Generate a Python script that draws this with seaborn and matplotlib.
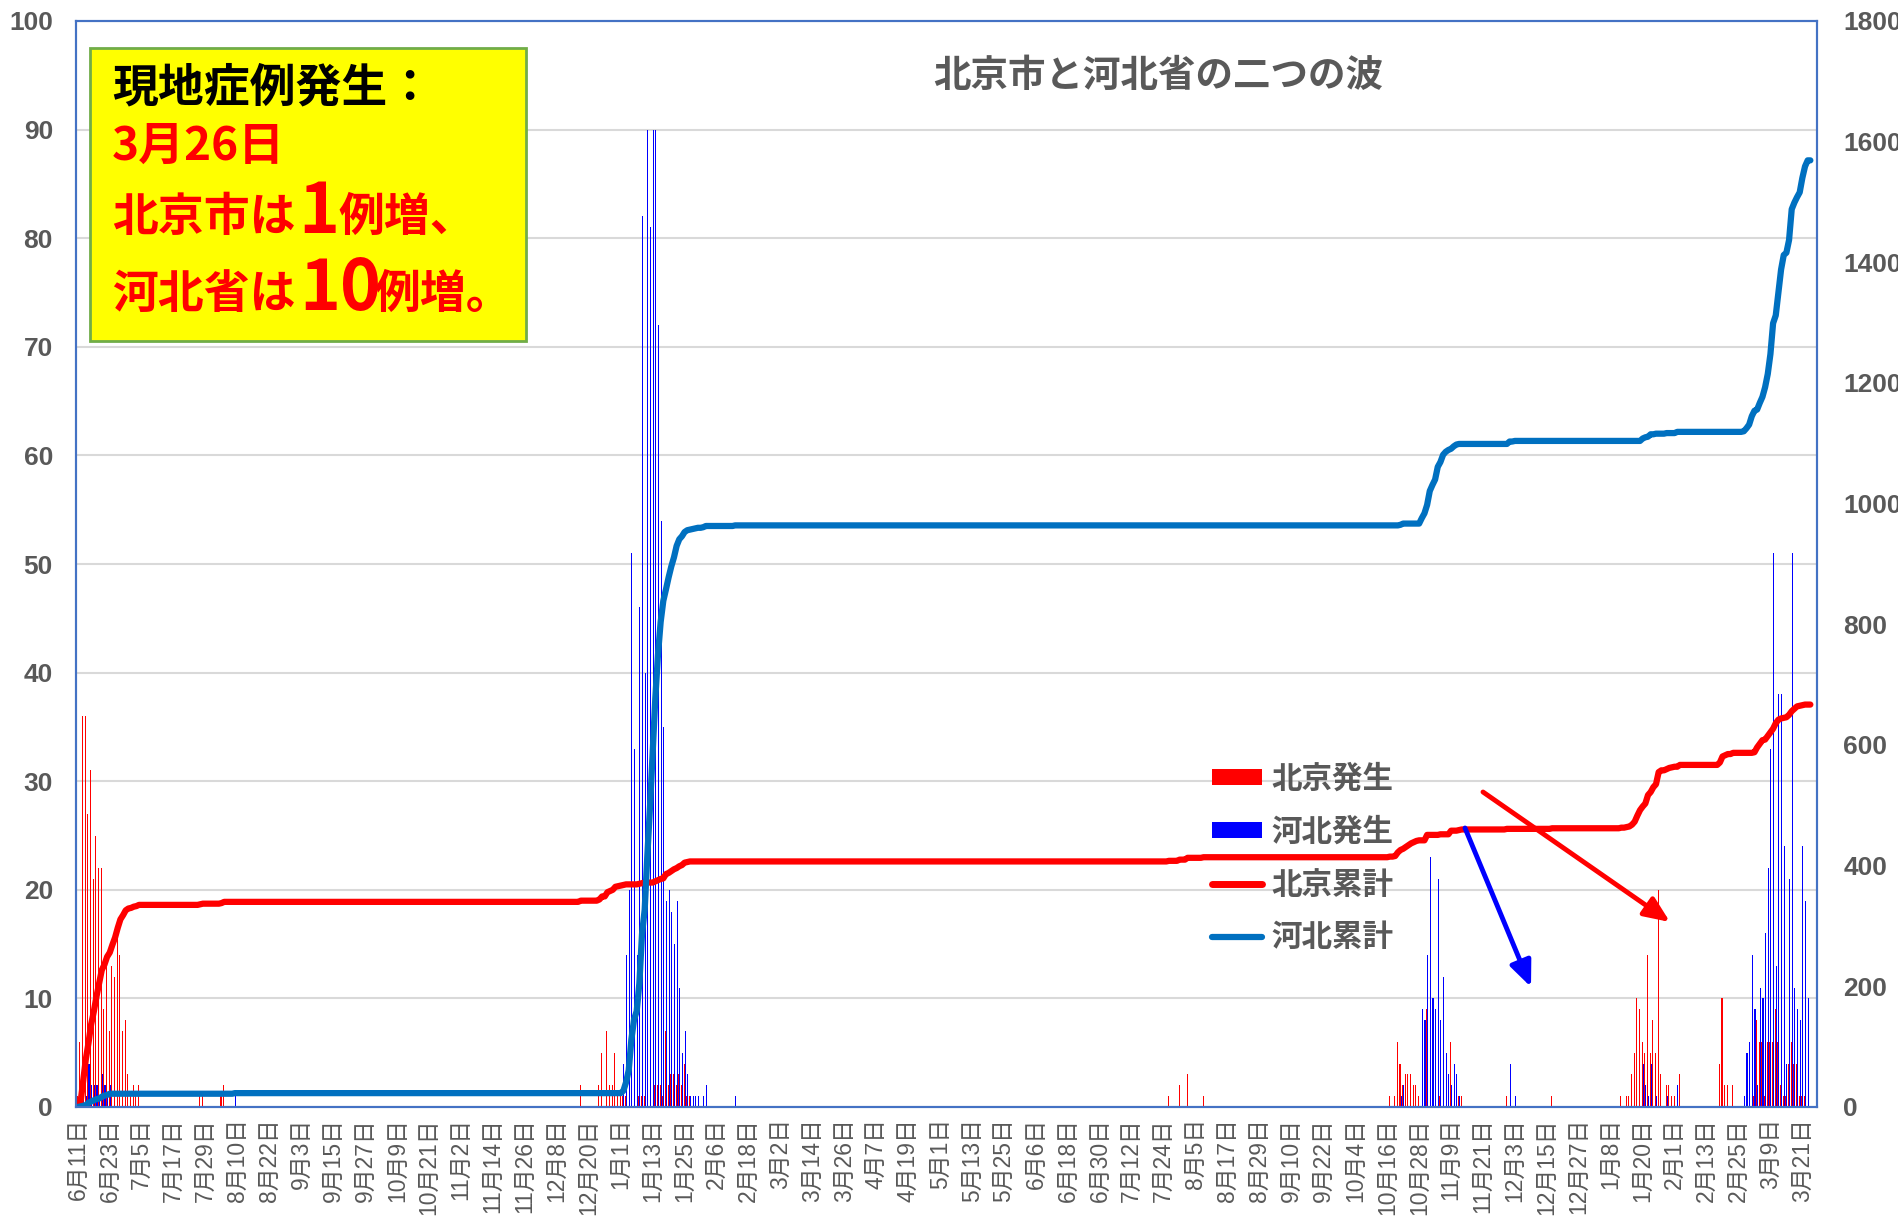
import numpy as np
import pandas as pd
import matplotlib
matplotlib.use("Agg")
import matplotlib.pyplot as plt
import seaborn as sns
from matplotlib.patches import Rectangle, Patch
from matplotlib.lines import Line2D

# 期間（カテゴリ軸は1日ごと）
first_day = "2020-06-11"
last_day = "2022-03-26"
line_last_day = "2022-03-24"

# 北京 現地症例（日別、0の日は省略）
bj_dates = [
    "2020-06-11", "2020-06-12", "2020-06-13", "2020-06-14", "2020-06-15", "2020-06-16",
    "2020-06-17", "2020-06-18", "2020-06-19", "2020-06-20", "2020-06-21", "2020-06-22",
    "2020-06-23", "2020-06-24", "2020-06-25", "2020-06-26", "2020-06-27", "2020-06-28",
    "2020-06-29", "2020-06-30", "2020-07-01", "2020-07-02", "2020-07-03", "2020-07-04",
    "2020-07-27", "2020-07-28", "2020-08-04", "2020-08-05",
    "2020-12-17", "2020-12-24", "2020-12-25", "2020-12-27", "2020-12-28", "2020-12-29",
    "2020-12-30", "2020-12-31", "2021-01-01", "2021-01-02", "2021-01-03", "2021-01-08",
    "2021-01-09", "2021-01-10", "2021-01-14", "2021-01-15", "2021-01-16", "2021-01-17",
    "2021-01-18", "2021-01-19", "2021-01-20", "2021-01-21", "2021-01-22", "2021-01-23",
    "2021-01-24", "2021-01-25", "2021-01-26", "2021-01-27",
    "2021-07-26", "2021-07-30", "2021-08-02", "2021-08-08",
    "2021-10-17", "2021-10-19", "2021-10-20", "2021-10-21", "2021-10-22", "2021-10-23",
    "2021-10-24", "2021-10-25", "2021-10-26", "2021-10-27", "2021-10-28", "2021-10-31",
    "2021-11-05", "2021-11-09", "2021-11-12", "2021-11-13", "2021-11-30", "2021-12-17",
    "2022-01-12", "2022-01-14", "2022-01-15", "2022-01-16", "2022-01-17", "2022-01-18",
    "2022-01-19", "2022-01-20", "2022-01-21", "2022-01-22", "2022-01-23", "2022-01-24",
    "2022-01-25", "2022-01-26", "2022-01-27", "2022-01-29", "2022-01-30", "2022-01-31",
    "2022-02-01", "2022-02-03", "2022-02-18", "2022-02-19", "2022-02-20", "2022-02-21",
    "2022-02-23", "2022-03-03", "2022-03-04", "2022-03-05", "2022-03-06", "2022-03-07",
    "2022-03-08", "2022-03-09", "2022-03-10", "2022-03-11", "2022-03-12", "2022-03-13",
    "2022-03-14", "2022-03-15", "2022-03-16", "2022-03-17", "2022-03-18", "2022-03-19",
    "2022-03-20", "2022-03-21", "2022-03-22",
]
bj_cases = [
    1, 6, 36, 36, 27, 31,
    21, 25, 22, 22, 9, 13,
    7, 13, 12, 16, 14, 7,
    8, 3, 1, 2, 1, 2,
    1, 1, 1, 2,
    2, 2, 5, 7, 2, 2,
    5, 1, 1, 1, 1, 1,
    1, 1, 2, 2, 2, 1,
    7, 2, 3, 3, 2, 3,
    2, 4, 1, 1,
    1, 2, 3, 1,
    1, 1, 6, 4, 2, 3,
    3, 3, 2, 2, 1, 9,
    1, 6, 1, 1, 1, 1,
    1, 1, 1, 3, 5, 10,
    9, 6, 5, 14, 5, 8,
    5, 20, 3, 2, 2, 1,
    1, 3, 4, 10, 2, 2,
    2, 1, 8, 6, 6, 1,
    6, 6, 6, 9, 6, 2,
    1, 1, 4, 6, 4, 4,
    1, 1, 1,
]

# 河北 現地症例（日別、0の日は省略）
hb_dates = [
    "2020-06-12", "2020-06-13", "2020-06-14", "2020-06-15", "2020-06-16", "2020-06-17",
    "2020-06-18", "2020-06-19", "2020-06-20", "2020-06-21", "2020-06-22", "2020-06-23",
    "2020-08-09",
    "2021-01-02", "2021-01-03", "2021-01-04", "2021-01-05", "2021-01-06", "2021-01-07",
    "2021-01-08", "2021-01-09", "2021-01-10", "2021-01-11", "2021-01-12", "2021-01-13",
    "2021-01-14", "2021-01-15", "2021-01-16", "2021-01-17", "2021-01-18", "2021-01-19",
    "2021-01-20", "2021-01-21", "2021-01-22", "2021-01-23", "2021-01-24", "2021-01-25",
    "2021-01-26", "2021-01-27", "2021-01-28", "2021-01-29", "2021-01-30", "2021-02-01",
    "2021-02-02", "2021-02-13",
    "2021-10-21", "2021-10-22", "2021-10-29", "2021-10-30", "2021-10-31", "2021-11-01",
    "2021-11-02", "2021-11-03", "2021-11-04", "2021-11-05", "2021-11-06", "2021-11-07",
    "2021-11-08", "2021-11-09", "2021-11-10", "2021-11-11", "2021-11-12", "2021-12-01",
    "2021-12-03",
    "2022-01-20", "2022-01-21", "2022-01-22", "2022-01-23", "2022-01-25", "2022-01-29",
    "2022-02-02", "2022-02-27", "2022-02-28", "2022-03-01", "2022-03-02", "2022-03-03",
    "2022-03-04", "2022-03-05", "2022-03-06", "2022-03-07", "2022-03-08", "2022-03-09",
    "2022-03-10", "2022-03-11", "2022-03-12", "2022-03-13", "2022-03-14", "2022-03-15",
    "2022-03-16", "2022-03-17", "2022-03-18", "2022-03-19", "2022-03-20", "2022-03-21",
    "2022-03-22", "2022-03-23",
]
hb_cases = [
    1, 1, 1, 4, 2, 2,
    2, 1, 3, 2, 1, 2,
    1,
    4, 14, 20, 51, 33, 14,
    46, 82, 40, 90, 81, 90,
    90, 72, 54, 35, 19, 20,
    18, 15, 19, 11, 5, 7,
    3, 1, 1, 1, 1, 1,
    2, 1,
    1, 2, 9, 8, 14, 23,
    10, 9, 21, 8, 12, 5,
    3, 2, 4, 3, 1, 4,
    1,
    4, 2, 1, 4, 1, 1,
    2, 1, 5, 6, 14, 9,
    2, 11, 10, 16, 22, 33,
    51, 13, 38, 38, 24, 4,
    21, 51, 11, 9, 8, 24,
    19, 10,
]

series_names = ["北京発生", "河北発生"]
line_names = ["北京累計", "河北累計"]
title = "北京市と河北省の二つの波"
report_date = "3月26日"
bj_new = 1
hb_new = 10

W, H = 1899, 1221
sns.set_theme(style="white")
plt.rcParams["font.family"] = ["Liberation Sans", "Noto Sans CJK JP", "DejaVu Sans"]
CJK = ["Noto Sans CJK JP", "DejaVu Sans"]
GREY = "#595959"

days = pd.date_range(first_day, last_day)
n = len(days)
bj = pd.Series(0, index=days)
bj.loc[pd.to_datetime(bj_dates)] = bj_cases
hb = pd.Series(0, index=days)
hb.loc[pd.to_datetime(hb_dates)] = hb_cases

# 累計
bj_cum = bj.cumsum().astype(float)
hb_cum = hb.cumsum().astype(float)
bj_cum[bj_cum.index > line_last_day] = np.nan
hb_cum[hb_cum.index > line_last_day] = np.nan

df = pd.DataFrame({
    "idx": np.tile(np.arange(n), 2),
    "cases": np.concatenate([bj.values, hb.values]),
    "series": np.repeat(series_names, n),
})

fig = plt.figure(figsize=(W / 100, H / 100), dpi=100)
ax = fig.add_axes([76.5 / W, 1 - 1107 / H, (1817 - 76.5) / W, (1107 - 21) / H])

sns.barplot(data=df, x="idx", y="cases", hue="series", hue_order=series_names,
            palette=["#FF0000", "#0000FF"], errorbar=None, width=0.8,
            saturation=1, linewidth=0, legend=False, ax=ax)

ax2 = ax.twinx()
x = np.arange(n)
sns.lineplot(x=x, y=bj_cum.values, ax=ax2, color="#FF0000", linewidth=4.5)
sns.lineplot(x=x, y=hb_cum.values, ax=ax2, color="#0070C0", linewidth=4.5)

ax.set_xlim(-0.5, n - 0.5)
ax.set_ylim(0, 100)
ax2.set_ylim(0, 1800)
ax.set_yticks(range(0, 101, 10))
ax2.set_yticks(range(0, 1801, 200))
ax.set_xticks(range(0, n, 12))
ax.set_xticklabels([f"{d.month}月{d.day}日" for d in days[::12]], rotation=90)
for a in (ax, ax2):
    a.set_xlabel("")
    a.set_ylabel("")
    for s in a.spines.values():
        s.set_color("#4472C4")
        s.set_linewidth(1.5)

ax.yaxis.grid(True, color="#D9D9D9", linewidth=1.5)
ax.set_axisbelow(True)

ax.tick_params(axis="y", length=0, pad=17, labelsize=19, labelcolor=GREY)
ax2.tick_params(axis="y", length=0, pad=19, labelsize=19, labelcolor=GREY)
ax.tick_params(axis="x", length=0, pad=8, labelsize=16.5, labelcolor=GREY)
plt.setp(ax.get_yticklabels(), fontweight="bold")
plt.setp(ax2.get_yticklabels(), fontweight="bold")

# 凡例
handles = [
    Patch(facecolor="#FF0000", edgecolor="none"),
    Patch(facecolor="#0000FF", edgecolor="none"),
    Line2D([0], [0], color="#FF0000", linewidth=5, solid_capstyle="round"),
    Line2D([0], [0], color="#0070C0", linewidth=4.5, solid_capstyle="round"),
]
leg = ax2.legend(handles, series_names + line_names, loc="upper left",
                 bbox_to_anchor=(1212 / W, 1 - 763 / H), bbox_transform=fig.transFigure,
                 frameon=False, prop=dict(family=CJK, weight="bold", size=22),
                 handlelength=1.65, handleheight=0.45, labelspacing=0.68,
                 handletextpad=0.3, borderpad=0, borderaxespad=0)
for t in leg.get_texts():
    t.set_color(GREY)

# 矢印
ax2.annotate("", xy=(1670, H - 922), xytext=(1483, H - 792),
             xycoords="figure pixels", textcoords="figure pixels",
             arrowprops=dict(arrowstyle="-|>,head_length=0.7,head_width=0.3", color="#FF0000",
                             lw=3.5, shrinkA=0, shrinkB=0, mutation_scale=22))
ax2.annotate("", xy=(1531, H - 987), xytext=(1465, H - 828),
             xycoords="figure pixels", textcoords="figure pixels",
             arrowprops=dict(arrowstyle="-|>,head_length=0.7,head_width=0.3", color="#0000FF",
                             lw=3.5, shrinkA=0, shrinkB=0, mutation_scale=22))


def ftext(px, py, s, **kw):
    return fig.text(px / W, 1 - py / H, s, **kw)


# タイトル
ftext(1158, 75, title, ha="center", va="center", size=27, weight="bold",
      color=GREY, family=CJK)

# 黄色のテキストボックス
fig.add_artist(Rectangle((90 / W, 1 - 341 / H), 436 / W, 293 / H, transform=fig.transFigure,
                         facecolor="#FFFF00", edgecolor="#70AD47", linewidth=2, zorder=5))
box = dict(weight="bold", family=CJK, va="baseline", zorder=6)
ftext(112, 101, "現地症例発生：", color="black", size=33, **box)
ftext(112, 160, report_date, color="#FF0000", size=33, **box)
ftext(112, 231, "北京市は", color="#FF0000", size=33, **box)
ftext(298, 233, str(bj_new), color="#FF0000", size=50, **box)
ftext(338, 231, "例増、", color="#FF0000", size=33, **box)
ftext(112, 308, "河北省は", color="#FF0000", size=33, **box)
ftext(299, 310, str(hb_new), color="#FF0000", size=50, **box)
ftext(374, 308, "例増。", color="#FF0000", size=33, **box)

fig.savefig("out.png", dpi=100)
